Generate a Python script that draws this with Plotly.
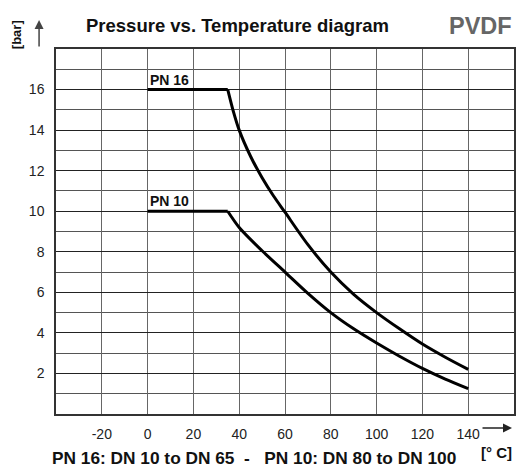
import plotly.graph_objects as go

# Data
pn16_temp = [0, 35, 37.5, 40, 45, 50, 55, 60, 70, 80, 90, 100, 110, 120, 130, 140]
pn16_bar = [16, 16, 14.9, 14.0, 12.7, 11.65, 10.75, 9.95, 8.35, 7.0, 5.9, 5.0, 4.2, 3.45, 2.8, 2.2]
pn10_temp = [0, 35, 40, 50, 60, 70, 80, 90, 100, 110, 120, 130, 140]
pn10_bar = [10, 10, 9.2, 8.05, 7.0, 5.95, 5.0, 4.2, 3.5, 2.85, 2.25, 1.72, 1.25]
x_ticks = [-20, 0, 20, 40, 60, 80, 100, 120, 140]
y_ticks = [2, 4, 6, 8, 10, 12, 14, 16]

FONT = "Liberation Sans, Arial, Helvetica, sans-serif"
W, H = 517, 467
L, R, T, B = 56, 1, 49, 53
PW, PH = W - L - R, H - T - B


def px(X):
    return (X - L) / PW


def py(Y):
    return (H - B - Y) / PH


fig = go.Figure()
for temps, bars in ((pn16_temp, pn16_bar), (pn10_temp, pn10_bar)):
    # flat plateau
    fig.add_trace(go.Scatter(x=temps[:2], y=bars[:2], mode="lines",
                             line=dict(color="black", width=3)))
    # smooth decline
    fig.add_trace(go.Scatter(x=temps[1:], y=bars[1:], mode="lines",
                             line=dict(color="black", width=3, shape="spline", smoothing=0.8)))

fig.update_layout(
    width=W, height=H, margin=dict(l=L, r=R, t=T, b=B),
    paper_bgcolor="white", plot_bgcolor="white", showlegend=False,
    font=dict(family=FONT, color="#222", size=14),
)
fig.update_xaxes(range=[-40, 160], tickvals=x_ticks, ticktext=[str(v) for v in x_ticks],
                 showgrid=True, gridcolor="#666", gridwidth=1.2,
                 showline=True, linecolor="#333", linewidth=1.5, mirror=True,
                 ticks="", ticklabelstandoff=6, zeroline=False,
                 tickfont=dict(size=14, color="#222"))
fig.update_yaxes(range=[0, 18], tickvals=y_ticks, ticktext=[str(v) for v in y_ticks],
                 showgrid=True, gridcolor="#222", gridwidth=1.2,
                 minor=dict(dtick=1, tick0=0, showgrid=True, gridcolor="#555", gridwidth=1.2),
                 showline=True, linecolor="#333", linewidth=1.5, mirror=True,
                 ticks="", ticklabelstandoff=7, zeroline=False,
                 tickfont=dict(size=14, color="#222"))

ann = []
ann.append(dict(x=px(238), y=py(26), xref="paper", yref="paper", showarrow=False,
                text="<b>Pressure vs. Temperature diagram</b>",
                font=dict(size=18.5, color="#111"), xanchor="center", yanchor="middle"))
ann.append(dict(x=px(482), y=py(26), xref="paper", yref="paper", showarrow=False,
                text="<b>PVDF</b>", font=dict(size=23.5, color="#666"),
                xanchor="center", yanchor="middle"))
ann.append(dict(x=px(17), y=py(35), xref="paper", yref="paper", showarrow=False,
                text="<b>[bar]</b>", textangle=-90, font=dict(size=13, color="#111"),
                xanchor="center", yanchor="middle"))
ann.append(dict(x=px(498), y=py(452), xref="paper", yref="paper", showarrow=False,
                text="<b>[° C]</b>", font=dict(size=15, color="#111"),
                xanchor="center", yanchor="middle"))
ann.append(dict(x=px(255), y=py(458), xref="paper", yref="paper", showarrow=False,
                text="<b>PN 16: DN 10 to DN 65  -   PN 10: DN 80 to DN 100</b>",
                font=dict(size=17.3, color="#111"), xanchor="center", yanchor="middle"))
# arrows
ann.append(dict(x=px(39), y=py(20), xref="paper", yref="paper", text="", showarrow=True,
                ax=0, ay=28, arrowhead=2, arrowsize=1.2, arrowwidth=1.5, arrowcolor="#444"))
ann.append(dict(x=px(514), y=py(428), xref="paper", yref="paper", text="", showarrow=True,
                ax=-31, ay=0, arrowhead=2, arrowsize=1.2, arrowwidth=1.5, arrowcolor="#222"))
# curve labels
ann.append(dict(x=pn16_temp[0], y=pn16_bar[0], xref="x", yref="y", showarrow=False,
                text="<b>PN 16</b>", font=dict(size=14, color="#111"),
                xanchor="left", yanchor="bottom", yshift=0))
ann.append(dict(x=pn10_temp[0], y=pn10_bar[0], xref="x", yref="y", showarrow=False,
                text="<b>PN 10</b>", font=dict(size=14, color="#111"),
                xanchor="left", yanchor="bottom", yshift=0))
fig.update_layout(annotations=ann)

fig.write_html("out.html", config={"displayModeBar": False},
               post_script="document.body.style.margin='0';")
